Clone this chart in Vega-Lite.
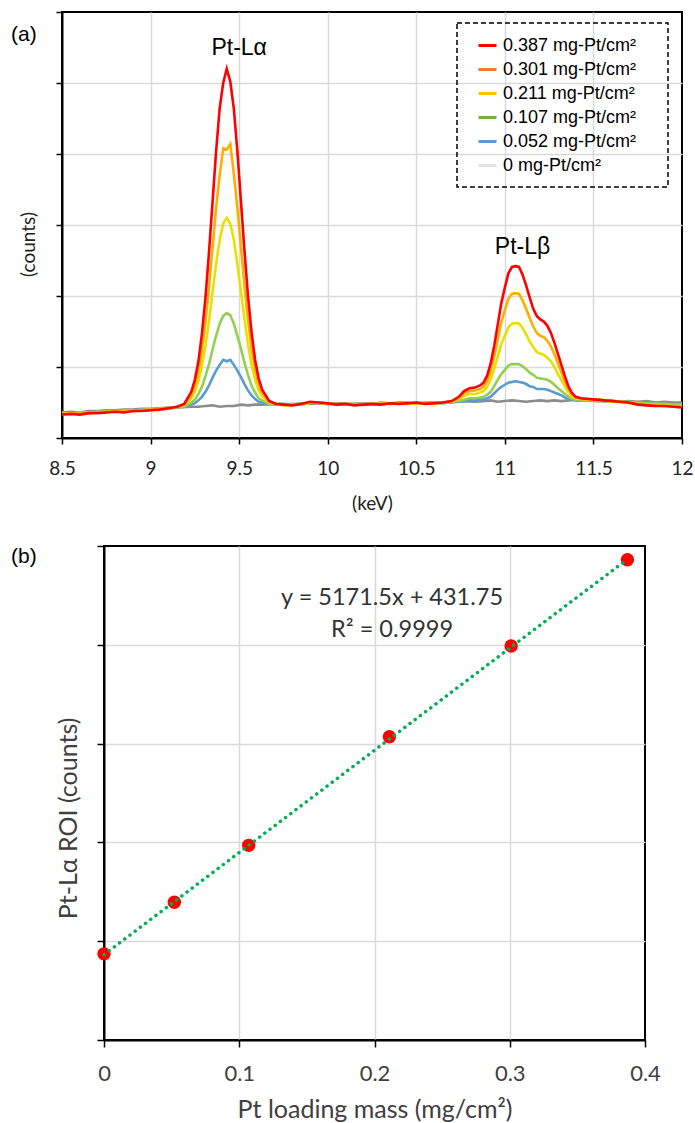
{
"$schema": "https://vega.github.io/schema/vega-lite/v6.json",
"background": "white",
"padding": {"left": 10, "top": 10, "right": 0, "bottom": 0},
"config": {
  "view": {"stroke": "#000", "strokeWidth": 2},
  "axis": {"labelFlush": false, "labelOverlap": false, "titleFontWeight": "normal"},
  "legend": {"strokeDash": [5, 3], "strokeWidth": 1.5}
},
"datasets": {
"spec": [
{"x":8.5,"s":"0","y":0.36},{"x":8.55,"s":"0","y":0.37},{"x":8.6,"s":"0","y":0.36},{"x":8.65,"s":"0","y":0.38},{"x":8.7,"s":"0","y":0.38},{"x":8.75,"s":"0","y":0.39},{"x":8.8,"s":"0","y":0.39},{"x":8.85,"s":"0","y":0.40},{"x":8.9,"s":"0","y":0.40},{"x":8.95,"s":"0","y":0.41},{"x":9,"s":"0","y":0.41},{"x":9.05,"s":"0","y":0.42},{"x":9.1,"s":"0","y":0.43},
{"x":9.15,"s":"0","y":0.43},{"x":9.23,"s":"0","y":0.44},{"x":9.27,"s":"0","y":0.44},{"x":9.31,"s":"0","y":0.45},{"x":9.35,"s":"0","y":0.46},{"x":9.39,"s":"0","y":0.44},{"x":9.43,"s":"0","y":0.45},{"x":9.47,"s":"0","y":0.45},{"x":9.51,"s":"0","y":0.47},{"x":9.55,"s":"0","y":0.46},{"x":9.59,"s":"0","y":0.47},{"x":9.63,"s":"0","y":0.47},{"x":9.71,"s":"0","y":0.48},
{"x":9.75,"s":"0","y":0.48},{"x":9.8,"s":"0","y":0.47},{"x":9.85,"s":"0","y":0.49},{"x":9.9,"s":"0","y":0.48},{"x":9.95,"s":"0","y":0.49},{"x":10,"s":"0","y":0.48},{"x":10.05,"s":"0","y":0.49},{"x":10.1,"s":"0","y":0.48},{"x":10.15,"s":"0","y":0.48},{"x":10.2,"s":"0","y":0.49},{"x":10.25,"s":"0","y":0.48},{"x":10.3,"s":"0","y":0.50},{"x":10.35,"s":"0","y":0.49},{"x":10.4,"s":"0","y":0.50},{"x":10.45,"s":"0","y":0.50},{"x":10.5,"s":"0","y":0.49},{"x":10.55,"s":"0","y":0.50},
{"x":10.6,"s":"0","y":0.50},{"x":10.65,"s":"0","y":0.50},{"x":10.7,"s":"0","y":0.51},{"x":10.77,"s":"0","y":0.52},{"x":10.83,"s":"0","y":0.51},{"x":10.88,"s":"0","y":0.52},{"x":10.92,"s":"0","y":0.53},{"x":10.96,"s":"0","y":0.51},{"x":11,"s":"0","y":0.52},{"x":11.04,"s":"0","y":0.53},{"x":11.08,"s":"0","y":0.52},{"x":11.12,"s":"0","y":0.51},{"x":11.16,"s":"0","y":0.52},{"x":11.2,"s":"0","y":0.53},{"x":11.24,"s":"0","y":0.52},{"x":11.28,"s":"0","y":0.53},{"x":11.32,"s":"0","y":0.52},{"x":11.36,"s":"0","y":0.53},{"x":11.4,"s":"0","y":0.54},{"x":11.47,"s":"0","y":0.53},{"x":11.52,"s":"0","y":0.52},
{"x":11.56,"s":"0","y":0.52},{"x":11.6,"s":"0","y":0.53},{"x":11.65,"s":"0","y":0.51},{"x":11.7,"s":"0","y":0.52},{"x":11.75,"s":"0","y":0.51},{"x":11.8,"s":"0","y":0.52},{"x":11.85,"s":"0","y":0.50},{"x":11.9,"s":"0","y":0.51},{"x":11.95,"s":"0","y":0.50},{"x":12,"s":"0","y":0.50},

{"x":8.5,"s":"0.052","y":0.34},{"x":8.55,"s":"0.052","y":0.35},{"x":8.6,"s":"0.052","y":0.35},{"x":8.65,"s":"0.052","y":0.36},{"x":8.7,"s":"0.052","y":0.37},{"x":8.75,"s":"0.052","y":0.37},{"x":8.8,"s":"0.052","y":0.38},{"x":8.85,"s":"0.052","y":0.38},{"x":8.9,"s":"0.052","y":0.39},{"x":8.95,"s":"0.052","y":0.40},{"x":9,"s":"0.052","y":0.40},{"x":9.05,"s":"0.052","y":0.41},{"x":9.1,"s":"0.052","y":0.42},
{"x":9.15,"s":"0.052","y":0.43},{"x":9.19,"s":"0.052","y":0.44},{"x":9.23,"s":"0.052","y":0.47},{"x":9.25,"s":"0.052","y":0.49},{"x":9.27,"s":"0.052","y":0.53},{"x":9.29,"s":"0.052","y":0.58},{"x":9.31,"s":"0.052","y":0.65},{"x":9.33,"s":"0.052","y":0.74},{"x":9.35,"s":"0.052","y":0.85},{"x":9.37,"s":"0.052","y":0.95},{"x":9.39,"s":"0.052","y":1.03},{"x":9.41,"s":"0.052","y":1.10},{"x":9.43,"s":"0.052","y":1.08},{"x":9.45,"s":"0.052","y":1.10},{"x":9.47,"s":"0.052","y":1.03},{"x":9.49,"s":"0.052","y":0.95},{"x":9.51,"s":"0.052","y":0.86},{"x":9.53,"s":"0.052","y":0.76},{"x":9.55,"s":"0.052","y":0.67},{"x":9.57,"s":"0.052","y":0.60},{"x":9.59,"s":"0.052","y":0.55},{"x":9.61,"s":"0.052","y":0.51},{"x":9.63,"s":"0.052","y":0.50},{"x":9.67,"s":"0.052","y":0.48},{"x":9.71,"s":"0.052","y":0.47},
{"x":9.75,"s":"0.052","y":0.47},{"x":9.8,"s":"0.052","y":0.47},{"x":9.85,"s":"0.052","y":0.48},{"x":9.9,"s":"0.052","y":0.49},{"x":9.95,"s":"0.052","y":0.49},{"x":10,"s":"0.052","y":0.48},{"x":10.05,"s":"0.052","y":0.48},{"x":10.1,"s":"0.052","y":0.48},{"x":10.15,"s":"0.052","y":0.47},{"x":10.2,"s":"0.052","y":0.48},{"x":10.25,"s":"0.052","y":0.48},{"x":10.3,"s":"0.052","y":0.48},{"x":10.35,"s":"0.052","y":0.49},{"x":10.4,"s":"0.052","y":0.49},{"x":10.45,"s":"0.052","y":0.49},{"x":10.5,"s":"0.052","y":0.49},{"x":10.55,"s":"0.052","y":0.49},
{"x":10.6,"s":"0.052","y":0.49},{"x":10.65,"s":"0.052","y":0.49},{"x":10.7,"s":"0.052","y":0.50},{"x":10.74,"s":"0.052","y":0.51},{"x":10.77,"s":"0.052","y":0.52},{"x":10.8,"s":"0.052","y":0.53},{"x":10.83,"s":"0.052","y":0.53},{"x":10.86,"s":"0.052","y":0.54},{"x":10.88,"s":"0.052","y":0.54},{"x":10.9,"s":"0.052","y":0.56},{"x":10.92,"s":"0.052","y":0.58},{"x":10.94,"s":"0.052","y":0.63},{"x":10.96,"s":"0.052","y":0.68},{"x":10.98,"s":"0.052","y":0.72},{"x":11,"s":"0.052","y":0.75},{"x":11.02,"s":"0.052","y":0.78},{"x":11.04,"s":"0.052","y":0.79},{"x":11.06,"s":"0.052","y":0.80},{"x":11.08,"s":"0.052","y":0.79},{"x":11.1,"s":"0.052","y":0.78},{"x":11.12,"s":"0.052","y":0.76},{"x":11.14,"s":"0.052","y":0.73},{"x":11.16,"s":"0.052","y":0.72},{"x":11.18,"s":"0.052","y":0.69},{"x":11.2,"s":"0.052","y":0.69},{"x":11.22,"s":"0.052","y":0.69},{"x":11.24,"s":"0.052","y":0.68},{"x":11.26,"s":"0.052","y":0.66},{"x":11.28,"s":"0.052","y":0.64},{"x":11.3,"s":"0.052","y":0.62},{"x":11.32,"s":"0.052","y":0.60},{"x":11.34,"s":"0.052","y":0.57},{"x":11.36,"s":"0.052","y":0.55},{"x":11.38,"s":"0.052","y":0.54},{"x":11.4,"s":"0.052","y":0.53},{"x":11.43,"s":"0.052","y":0.53},{"x":11.47,"s":"0.052","y":0.53},{"x":11.52,"s":"0.052","y":0.53},
{"x":11.56,"s":"0.052","y":0.52},{"x":11.6,"s":"0.052","y":0.52},{"x":11.65,"s":"0.052","y":0.51},{"x":11.7,"s":"0.052","y":0.50},{"x":11.75,"s":"0.052","y":0.49},{"x":11.8,"s":"0.052","y":0.49},{"x":11.85,"s":"0.052","y":0.48},{"x":11.9,"s":"0.052","y":0.48},{"x":11.95,"s":"0.052","y":0.47},{"x":12,"s":"0.052","y":0.48},

{"x":8.5,"s":"0.107","y":0.35},{"x":8.55,"s":"0.107","y":0.34},{"x":8.6,"s":"0.107","y":0.36},{"x":8.65,"s":"0.107","y":0.36},{"x":8.7,"s":"0.107","y":0.36},{"x":8.75,"s":"0.107","y":0.38},{"x":8.8,"s":"0.107","y":0.37},{"x":8.85,"s":"0.107","y":0.39},{"x":8.9,"s":"0.107","y":0.38},{"x":8.95,"s":"0.107","y":0.40},{"x":9,"s":"0.107","y":0.39},{"x":9.05,"s":"0.107","y":0.41},{"x":9.1,"s":"0.107","y":0.42},
{"x":9.15,"s":"0.107","y":0.43},{"x":9.19,"s":"0.107","y":0.44},{"x":9.23,"s":"0.107","y":0.50},{"x":9.25,"s":"0.107","y":0.54},{"x":9.27,"s":"0.107","y":0.62},{"x":9.29,"s":"0.107","y":0.72},{"x":9.31,"s":"0.107","y":0.87},{"x":9.33,"s":"0.107","y":1.04},{"x":9.35,"s":"0.107","y":1.25},{"x":9.37,"s":"0.107","y":1.44},{"x":9.39,"s":"0.107","y":1.61},{"x":9.41,"s":"0.107","y":1.72},{"x":9.43,"s":"0.107","y":1.76},{"x":9.45,"s":"0.107","y":1.73},{"x":9.47,"s":"0.107","y":1.61},{"x":9.49,"s":"0.107","y":1.44},{"x":9.51,"s":"0.107","y":1.26},{"x":9.53,"s":"0.107","y":1.06},{"x":9.55,"s":"0.107","y":0.89},{"x":9.57,"s":"0.107","y":0.74},{"x":9.59,"s":"0.107","y":0.64},{"x":9.61,"s":"0.107","y":0.56},{"x":9.63,"s":"0.107","y":0.53},{"x":9.67,"s":"0.107","y":0.48},{"x":9.71,"s":"0.107","y":0.47},
{"x":9.75,"s":"0.107","y":0.47},{"x":9.8,"s":"0.107","y":0.48},{"x":9.85,"s":"0.107","y":0.47},{"x":9.9,"s":"0.107","y":0.49},{"x":9.95,"s":"0.107","y":0.50},{"x":10,"s":"0.107","y":0.49},{"x":10.05,"s":"0.107","y":0.48},{"x":10.1,"s":"0.107","y":0.47},{"x":10.15,"s":"0.107","y":0.48},{"x":10.2,"s":"0.107","y":0.48},{"x":10.25,"s":"0.107","y":0.47},{"x":10.3,"s":"0.107","y":0.49},{"x":10.35,"s":"0.107","y":0.48},{"x":10.4,"s":"0.107","y":0.49},{"x":10.45,"s":"0.107","y":0.48},{"x":10.5,"s":"0.107","y":0.50},{"x":10.55,"s":"0.107","y":0.49},
{"x":10.6,"s":"0.107","y":0.49},{"x":10.65,"s":"0.107","y":0.49},{"x":10.7,"s":"0.107","y":0.51},{"x":10.74,"s":"0.107","y":0.52},{"x":10.77,"s":"0.107","y":0.54},{"x":10.8,"s":"0.107","y":0.56},{"x":10.83,"s":"0.107","y":0.56},{"x":10.86,"s":"0.107","y":0.57},{"x":10.88,"s":"0.107","y":0.58},{"x":10.9,"s":"0.107","y":0.61},{"x":10.92,"s":"0.107","y":0.65},{"x":10.94,"s":"0.107","y":0.73},{"x":10.96,"s":"0.107","y":0.82},{"x":10.98,"s":"0.107","y":0.90},{"x":11,"s":"0.107","y":0.96},{"x":11.02,"s":"0.107","y":1.02},{"x":11.04,"s":"0.107","y":1.04},{"x":11.06,"s":"0.107","y":1.04},{"x":11.08,"s":"0.107","y":1.04},{"x":11.1,"s":"0.107","y":1.01},{"x":11.12,"s":"0.107","y":0.97},{"x":11.14,"s":"0.107","y":0.92},{"x":11.16,"s":"0.107","y":0.89},{"x":11.18,"s":"0.107","y":0.85},{"x":11.2,"s":"0.107","y":0.84},{"x":11.22,"s":"0.107","y":0.83},{"x":11.24,"s":"0.107","y":0.82},{"x":11.26,"s":"0.107","y":0.79},{"x":11.28,"s":"0.107","y":0.75},{"x":11.3,"s":"0.107","y":0.70},{"x":11.32,"s":"0.107","y":0.66},{"x":11.34,"s":"0.107","y":0.62},{"x":11.36,"s":"0.107","y":0.58},{"x":11.38,"s":"0.107","y":0.55},{"x":11.4,"s":"0.107","y":0.54},{"x":11.43,"s":"0.107","y":0.54},{"x":11.47,"s":"0.107","y":0.53},{"x":11.52,"s":"0.107","y":0.53},
{"x":11.56,"s":"0.107","y":0.52},{"x":11.6,"s":"0.107","y":0.52},{"x":11.65,"s":"0.107","y":0.51},{"x":11.7,"s":"0.107","y":0.51},{"x":11.75,"s":"0.107","y":0.50},{"x":11.8,"s":"0.107","y":0.49},{"x":11.85,"s":"0.107","y":0.48},{"x":11.9,"s":"0.107","y":0.48},{"x":11.95,"s":"0.107","y":0.47},{"x":12,"s":"0.107","y":0.47},

{"x":8.5,"s":"0.211","y":0.34},{"x":8.55,"s":"0.211","y":0.35},{"x":8.6,"s":"0.211","y":0.34},{"x":8.65,"s":"0.211","y":0.36},{"x":8.7,"s":"0.211","y":0.37},{"x":8.75,"s":"0.211","y":0.36},{"x":8.8,"s":"0.211","y":0.38},{"x":8.85,"s":"0.211","y":0.37},{"x":8.9,"s":"0.211","y":0.39},{"x":8.95,"s":"0.211","y":0.39},{"x":9,"s":"0.211","y":0.40},{"x":9.05,"s":"0.211","y":0.40},{"x":9.1,"s":"0.211","y":0.42},
{"x":9.15,"s":"0.211","y":0.44},{"x":9.19,"s":"0.211","y":0.46},{"x":9.23,"s":"0.211","y":0.56},{"x":9.25,"s":"0.211","y":0.65},{"x":9.27,"s":"0.211","y":0.80},{"x":9.29,"s":"0.211","y":1.01},{"x":9.31,"s":"0.211","y":1.30},{"x":9.33,"s":"0.211","y":1.65},{"x":9.35,"s":"0.211","y":2.06},{"x":9.37,"s":"0.211","y":2.45},{"x":9.39,"s":"0.211","y":2.79},{"x":9.41,"s":"0.211","y":3.02},{"x":9.43,"s":"0.211","y":3.10},{"x":9.45,"s":"0.211","y":3.02},{"x":9.47,"s":"0.211","y":2.79},{"x":9.49,"s":"0.211","y":2.45},{"x":9.51,"s":"0.211","y":2.07},{"x":9.53,"s":"0.211","y":1.67},{"x":9.55,"s":"0.211","y":1.32},{"x":9.57,"s":"0.211","y":1.03},{"x":9.59,"s":"0.211","y":0.82},{"x":9.61,"s":"0.211","y":0.67},{"x":9.63,"s":"0.211","y":0.59},{"x":9.67,"s":"0.211","y":0.50},{"x":9.71,"s":"0.211","y":0.48},
{"x":9.75,"s":"0.211","y":0.46},{"x":9.8,"s":"0.211","y":0.47},{"x":9.85,"s":"0.211","y":0.47},{"x":9.9,"s":"0.211","y":0.50},{"x":9.95,"s":"0.211","y":0.50},{"x":10,"s":"0.211","y":0.48},{"x":10.05,"s":"0.211","y":0.47},{"x":10.1,"s":"0.211","y":0.48},{"x":10.15,"s":"0.211","y":0.47},{"x":10.2,"s":"0.211","y":0.47},{"x":10.25,"s":"0.211","y":0.48},{"x":10.3,"s":"0.211","y":0.48},{"x":10.35,"s":"0.211","y":0.49},{"x":10.4,"s":"0.211","y":0.48},{"x":10.45,"s":"0.211","y":0.49},{"x":10.5,"s":"0.211","y":0.49},{"x":10.55,"s":"0.211","y":0.49},
{"x":10.6,"s":"0.211","y":0.49},{"x":10.65,"s":"0.211","y":0.50},{"x":10.7,"s":"0.211","y":0.51},{"x":10.74,"s":"0.211","y":0.55},{"x":10.77,"s":"0.211","y":0.59},{"x":10.8,"s":"0.211","y":0.62},{"x":10.83,"s":"0.211","y":0.62},{"x":10.86,"s":"0.211","y":0.64},{"x":10.88,"s":"0.211","y":0.66},{"x":10.9,"s":"0.211","y":0.72},{"x":10.92,"s":"0.211","y":0.82},{"x":10.94,"s":"0.211","y":0.97},{"x":10.96,"s":"0.211","y":1.15},{"x":10.98,"s":"0.211","y":1.32},{"x":11,"s":"0.211","y":1.44},{"x":11.02,"s":"0.211","y":1.56},{"x":11.04,"s":"0.211","y":1.61},{"x":11.06,"s":"0.211","y":1.62},{"x":11.08,"s":"0.211","y":1.61},{"x":11.1,"s":"0.211","y":1.55},{"x":11.12,"s":"0.211","y":1.46},{"x":11.14,"s":"0.211","y":1.36},{"x":11.16,"s":"0.211","y":1.28},{"x":11.18,"s":"0.211","y":1.21},{"x":11.2,"s":"0.211","y":1.19},{"x":11.22,"s":"0.211","y":1.17},{"x":11.24,"s":"0.211","y":1.13},{"x":11.26,"s":"0.211","y":1.08},{"x":11.28,"s":"0.211","y":1.00},{"x":11.3,"s":"0.211","y":0.90},{"x":11.32,"s":"0.211","y":0.81},{"x":11.34,"s":"0.211","y":0.72},{"x":11.36,"s":"0.211","y":0.64},{"x":11.38,"s":"0.211","y":0.58},{"x":11.4,"s":"0.211","y":0.56},{"x":11.43,"s":"0.211","y":0.55},{"x":11.47,"s":"0.211","y":0.54},{"x":11.52,"s":"0.211","y":0.54},
{"x":11.56,"s":"0.211","y":0.53},{"x":11.6,"s":"0.211","y":0.51},{"x":11.65,"s":"0.211","y":0.51},{"x":11.7,"s":"0.211","y":0.50},{"x":11.75,"s":"0.211","y":0.48},{"x":11.8,"s":"0.211","y":0.47},{"x":11.85,"s":"0.211","y":0.47},{"x":11.9,"s":"0.211","y":0.46},{"x":11.95,"s":"0.211","y":0.45},{"x":12,"s":"0.211","y":0.45},

{"x":8.5,"s":"0.301","y":0.33},{"x":8.55,"s":"0.301","y":0.34},{"x":8.6,"s":"0.301","y":0.35},{"x":8.65,"s":"0.301","y":0.35},{"x":8.7,"s":"0.301","y":0.36},{"x":8.75,"s":"0.301","y":0.37},{"x":8.8,"s":"0.301","y":0.37},{"x":8.85,"s":"0.301","y":0.38},{"x":8.9,"s":"0.301","y":0.38},{"x":8.95,"s":"0.301","y":0.39},{"x":9,"s":"0.301","y":0.40},{"x":9.05,"s":"0.301","y":0.41},{"x":9.1,"s":"0.301","y":0.41},
{"x":9.15,"s":"0.301","y":0.44},{"x":9.19,"s":"0.301","y":0.47},{"x":9.23,"s":"0.301","y":0.60},{"x":9.25,"s":"0.301","y":0.74},{"x":9.27,"s":"0.301","y":0.94},{"x":9.29,"s":"0.301","y":1.24},{"x":9.31,"s":"0.301","y":1.64},{"x":9.33,"s":"0.301","y":2.13},{"x":9.35,"s":"0.301","y":2.69},{"x":9.37,"s":"0.301","y":3.24},{"x":9.39,"s":"0.301","y":3.70},{"x":9.41,"s":"0.301","y":4.08},{"x":9.43,"s":"0.301","y":4.06},{"x":9.45,"s":"0.301","y":4.14},{"x":9.47,"s":"0.301","y":3.72},{"x":9.49,"s":"0.301","y":3.24},{"x":9.51,"s":"0.301","y":2.70},{"x":9.53,"s":"0.301","y":2.15},{"x":9.55,"s":"0.301","y":1.66},{"x":9.57,"s":"0.301","y":1.26},{"x":9.59,"s":"0.301","y":0.96},{"x":9.61,"s":"0.301","y":0.76},{"x":9.63,"s":"0.301","y":0.63},{"x":9.67,"s":"0.301","y":0.51},{"x":9.71,"s":"0.301","y":0.48},
{"x":9.75,"s":"0.301","y":0.47},{"x":9.8,"s":"0.301","y":0.47},{"x":9.85,"s":"0.301","y":0.48},{"x":9.9,"s":"0.301","y":0.50},{"x":9.95,"s":"0.301","y":0.49},{"x":10,"s":"0.301","y":0.48},{"x":10.05,"s":"0.301","y":0.48},{"x":10.1,"s":"0.301","y":0.47},{"x":10.15,"s":"0.301","y":0.47},{"x":10.2,"s":"0.301","y":0.48},{"x":10.25,"s":"0.301","y":0.47},{"x":10.3,"s":"0.301","y":0.48},{"x":10.35,"s":"0.301","y":0.48},{"x":10.4,"s":"0.301","y":0.49},{"x":10.45,"s":"0.301","y":0.48},{"x":10.5,"s":"0.301","y":0.49},{"x":10.55,"s":"0.301","y":0.49},
{"x":10.6,"s":"0.301","y":0.49},{"x":10.65,"s":"0.301","y":0.50},{"x":10.7,"s":"0.301","y":0.52},{"x":10.74,"s":"0.301","y":0.56},{"x":10.77,"s":"0.301","y":0.63},{"x":10.8,"s":"0.301","y":0.66},{"x":10.83,"s":"0.301","y":0.67},{"x":10.86,"s":"0.301","y":0.69},{"x":10.88,"s":"0.301","y":0.72},{"x":10.9,"s":"0.301","y":0.80},{"x":10.92,"s":"0.301","y":0.94},{"x":10.94,"s":"0.301","y":1.15},{"x":10.96,"s":"0.301","y":1.39},{"x":10.98,"s":"0.301","y":1.63},{"x":11,"s":"0.301","y":1.80},{"x":11.02,"s":"0.301","y":1.96},{"x":11.04,"s":"0.301","y":2.03},{"x":11.06,"s":"0.301","y":2.04},{"x":11.08,"s":"0.301","y":2.03},{"x":11.1,"s":"0.301","y":1.94},{"x":11.12,"s":"0.301","y":1.82},{"x":11.14,"s":"0.301","y":1.69},{"x":11.16,"s":"0.301","y":1.57},{"x":11.18,"s":"0.301","y":1.48},{"x":11.2,"s":"0.301","y":1.44},{"x":11.22,"s":"0.301","y":1.42},{"x":11.24,"s":"0.301","y":1.37},{"x":11.26,"s":"0.301","y":1.29},{"x":11.28,"s":"0.301","y":1.18},{"x":11.3,"s":"0.301","y":1.05},{"x":11.32,"s":"0.301","y":0.92},{"x":11.34,"s":"0.301","y":0.79},{"x":11.36,"s":"0.301","y":0.68},{"x":11.38,"s":"0.301","y":0.61},{"x":11.4,"s":"0.301","y":0.57},{"x":11.43,"s":"0.301","y":0.55},{"x":11.47,"s":"0.301","y":0.55},{"x":11.52,"s":"0.301","y":0.54},
{"x":11.56,"s":"0.301","y":0.53},{"x":11.6,"s":"0.301","y":0.52},{"x":11.65,"s":"0.301","y":0.51},{"x":11.7,"s":"0.301","y":0.49},{"x":11.75,"s":"0.301","y":0.48},{"x":11.8,"s":"0.301","y":0.47},{"x":11.85,"s":"0.301","y":0.46},{"x":11.9,"s":"0.301","y":0.45},{"x":11.95,"s":"0.301","y":0.45},{"x":12,"s":"0.301","y":0.44},

{"x":8.5,"s":"0.387","y":0.33},{"x":8.55,"s":"0.387","y":0.34},{"x":8.6,"s":"0.387","y":0.33},{"x":8.65,"s":"0.387","y":0.35},{"x":8.7,"s":"0.387","y":0.35},{"x":8.75,"s":"0.387","y":0.36},{"x":8.8,"s":"0.387","y":0.37},{"x":8.85,"s":"0.387","y":0.36},{"x":8.9,"s":"0.387","y":0.38},{"x":8.95,"s":"0.387","y":0.38},{"x":9,"s":"0.387","y":0.39},{"x":9.05,"s":"0.387","y":0.40},{"x":9.1,"s":"0.387","y":0.42},
{"x":9.15,"s":"0.387","y":0.44},{"x":9.19,"s":"0.387","y":0.48},{"x":9.23,"s":"0.387","y":0.65},{"x":9.25,"s":"0.387","y":0.82},{"x":9.27,"s":"0.387","y":1.08},{"x":9.29,"s":"0.387","y":1.47},{"x":9.31,"s":"0.387","y":1.98},{"x":9.33,"s":"0.387","y":2.62},{"x":9.35,"s":"0.387","y":3.33},{"x":9.37,"s":"0.387","y":4.04},{"x":9.39,"s":"0.387","y":4.64},{"x":9.41,"s":"0.387","y":5.00},{"x":9.43,"s":"0.387","y":5.20},{"x":9.45,"s":"0.387","y":5.02},{"x":9.47,"s":"0.387","y":4.64},{"x":9.49,"s":"0.387","y":4.04},{"x":9.51,"s":"0.387","y":3.34},{"x":9.53,"s":"0.387","y":2.64},{"x":9.55,"s":"0.387","y":2.00},{"x":9.57,"s":"0.387","y":1.49},{"x":9.59,"s":"0.387","y":1.10},{"x":9.61,"s":"0.387","y":0.84},{"x":9.63,"s":"0.387","y":0.68},{"x":9.67,"s":"0.387","y":0.52},{"x":9.71,"s":"0.387","y":0.48},
{"x":9.75,"s":"0.387","y":0.47},{"x":9.8,"s":"0.387","y":0.46},{"x":9.85,"s":"0.387","y":0.48},{"x":9.9,"s":"0.387","y":0.51},{"x":9.95,"s":"0.387","y":0.50},{"x":10,"s":"0.387","y":0.49},{"x":10.05,"s":"0.387","y":0.47},{"x":10.1,"s":"0.387","y":0.48},{"x":10.15,"s":"0.387","y":0.46},{"x":10.2,"s":"0.387","y":0.47},{"x":10.25,"s":"0.387","y":0.48},{"x":10.3,"s":"0.387","y":0.47},{"x":10.35,"s":"0.387","y":0.49},{"x":10.4,"s":"0.387","y":0.48},{"x":10.45,"s":"0.387","y":0.49},{"x":10.5,"s":"0.387","y":0.50},{"x":10.55,"s":"0.387","y":0.48},
{"x":10.6,"s":"0.387","y":0.49},{"x":10.65,"s":"0.387","y":0.50},{"x":10.7,"s":"0.387","y":0.52},{"x":10.74,"s":"0.387","y":0.58},{"x":10.77,"s":"0.387","y":0.66},{"x":10.8,"s":"0.387","y":0.70},{"x":10.83,"s":"0.387","y":0.71},{"x":10.86,"s":"0.387","y":0.74},{"x":10.88,"s":"0.387","y":0.78},{"x":10.9,"s":"0.387","y":0.88},{"x":10.92,"s":"0.387","y":1.05},{"x":10.94,"s":"0.387","y":1.30},{"x":10.96,"s":"0.387","y":1.60},{"x":10.98,"s":"0.387","y":1.90},{"x":11,"s":"0.387","y":2.12},{"x":11.02,"s":"0.387","y":2.32},{"x":11.04,"s":"0.387","y":2.41},{"x":11.06,"s":"0.387","y":2.42},{"x":11.08,"s":"0.387","y":2.41},{"x":11.1,"s":"0.387","y":2.30},{"x":11.12,"s":"0.387","y":2.15},{"x":11.14,"s":"0.387","y":1.98},{"x":11.16,"s":"0.387","y":1.82},{"x":11.18,"s":"0.387","y":1.72},{"x":11.2,"s":"0.387","y":1.67},{"x":11.22,"s":"0.387","y":1.64},{"x":11.24,"s":"0.387","y":1.58},{"x":11.26,"s":"0.387","y":1.48},{"x":11.28,"s":"0.387","y":1.34},{"x":11.3,"s":"0.387","y":1.18},{"x":11.32,"s":"0.387","y":1.02},{"x":11.34,"s":"0.387","y":0.86},{"x":11.36,"s":"0.387","y":0.72},{"x":11.38,"s":"0.387","y":0.63},{"x":11.4,"s":"0.387","y":0.58},{"x":11.43,"s":"0.387","y":0.56},{"x":11.47,"s":"0.387","y":0.55},{"x":11.52,"s":"0.387","y":0.54},
{"x":11.56,"s":"0.387","y":0.53},{"x":11.6,"s":"0.387","y":0.52},{"x":11.65,"s":"0.387","y":0.51},{"x":11.7,"s":"0.387","y":0.50},{"x":11.75,"s":"0.387","y":0.47},{"x":11.8,"s":"0.387","y":0.46},{"x":11.85,"s":"0.387","y":0.45},{"x":11.9,"s":"0.387","y":0.45},{"x":11.95,"s":"0.387","y":0.44},{"x":12,"s":"0.387","y":0.43}
],
"pts": [
{"m":0,"c":436},{"m":0.052,"c":697},{"m":0.107,"c":985},{"m":0.211,"c":1535},{"m":0.301,"c":1994},{"m":0.387,"c":2430}
],
"trend": [
{"m":0,"c":431.75},{"m":0.387,"c":2433.2}
]
},
"vconcat": [
{
 "width": 620, "height": 426,
 "layer": [
  {
   "data": {"name": "spec"},
   "transform": [{"filter": "datum.x < 0"}],
   "mark": {"type": "line", "strokeWidth": 3},
   "encoding": {
    "x": {"field": "x", "type": "quantitative", "title": "(keV)"},
    "y": {"field": "y", "type": "quantitative", "title": "(counts)"},
    "color": {"field": "s", "type": "nominal",
     "scale": {"domain": ["0.387","0.301","0.211","0.107","0.052","0"], "range": ["#FF0000","#ED7D31","#FFC000","#70AD47","#5B9BD5","#E3E3E3"]},
     "legend": {"orient": "none", "legendX": 395, "legendY": 11,
      "title": "mm", "titleOrient": "right", "titleColor": "rgba(0,0,0,0)", "titleFont": "Liberation Sans", "titleFontSize": 10, "titlePadding": 2,
      "labelFont": "Liberation Sans", "labelFontSize": 18, "labelColor": "#000",
      "symbolType": "stroke", "symbolSize": 324, "symbolStrokeWidth": 3, "symbolOffset": 8,
      "labelOffset": 5, "rowPadding": 4, "padding": 12, "strokeColor": "#000",
      "labelExpr": "datum.label + ' mg-Pt/cm²'"}
    }
   }
  },
  {
   "data": {"name": "spec"},
   "mark": {"type": "line", "strokeWidth": 2.6},
   "encoding": {
    "x": {"field": "x", "type": "quantitative", "title": "(keV)",
     "scale": {"domain": [8.5, 12], "nice": false, "zero": false},
     "axis": {"values": [8.5,9,9.5,10,10.5,11,11.5,12], "format": "~g",
      "domainColor": "#000", "domainWidth": 2, "tickColor": "#000", "tickWidth": 1.5, "tickSize": 6,
      "labelFont": "Lato", "labelFontSize": 19, "labelColor": "#222", "labelBaseline": "alphabetic", "labelPadding": 30,
      "gridColor": {"condition": {"test": "datum.value == 8.5 || datum.value == 12", "value": "rgba(0,0,0,0)"}, "value": "#D9D9D9"}, "gridWidth": 1.5,
      "titleFont": "Lato", "titleFontSize": 19, "titleColor": "#222", "titleBaseline": "alphabetic", "titleY": 71}},
    "y": {"field": "y", "type": "quantitative", "title": "(counts)",
     "scale": {"domain": [0, 6], "nice": false},
     "axis": {"values": [0,1,2,3,4,5,6], "labels": false,
      "domainColor": "#000", "domainWidth": 2, "tickColor": "#000", "tickWidth": 1.5, "tickSize": 6,
      "gridColor": {"condition": {"test": "datum.value == 0 || datum.value == 6", "value": "rgba(0,0,0,0)"}, "value": "#D9D9D9"}, "gridWidth": 1.5,
      "titleFont": "Lato", "titleFontSize": 19, "titleColor": "#222", "titleX": -24, "titleY": 232}},
    "stroke": {"field": "s", "type": "nominal",
     "scale": {"domain": ["0.387","0.301","0.211","0.107","0.052","0"], "range": ["#FF0000","#FFAE00","#E8E000","#92D050","#5B9BD5","#8C8C8C"]},
     "legend": null}
   }
  },
  {
   "data": {"values": [{"x": 9.5, "y": 5.49, "t": "Pt-Lα"}, {"x": 11.1, "y": 2.69, "t": "Pt-Lβ"}]},
   "mark": {"type": "text", "font": "Liberation Sans", "fontSize": 23, "baseline": "middle", "align": "center", "color": "#000"},
   "encoding": {
    "x": {"field": "x", "type": "quantitative", "title": "(keV)"},
    "y": {"field": "y", "type": "quantitative", "title": "(counts)"},
    "text": {"field": "t"}
   }
  },
  {
   "data": {"values": [{"x": 8.285, "y": 5.68, "t": "(a)"}]},
   "mark": {"type": "text", "font": "Liberation Sans", "fontSize": 21, "baseline": "middle", "align": "center", "color": "#000"},
   "encoding": {
    "x": {"field": "x", "type": "quantitative", "title": "(keV)"},
    "y": {"field": "y", "type": "quantitative", "title": "(counts)"},
    "text": {"field": "t"}
   }
  }
 ]
},
{
 "hconcat": [
  {
   "width": 42, "height": 494,
   "view": {"stroke": null},
   "data": {"values": []},
   "mark": "point"
  },
  {
   "width": 541, "height": 494,
   "layer": [
    {
     "data": {"name": "pts"},
     "mark": {"type": "point", "filled": true, "size": 180, "color": "#FF0000", "opacity": 1},
     "encoding": {
      "x": {"field": "m", "type": "quantitative", "title": "Pt loading mass (mg/cm²)",
       "scale": {"domain": [0, 0.4], "nice": false},
       "axis": {"values": [0,0.1,0.2,0.3,0.4], "format": "~g",
        "domainColor": "#000", "domainWidth": 2, "tickColor": "#000", "tickWidth": 1.5, "tickSize": 7,
        "labelFont": "Lato", "labelFontSize": 22, "labelColor": "#404040", "labelBaseline": "alphabetic", "labelPadding": 33,
        "gridColor": {"condition": {"test": "datum.value == 0 || datum.value == 0.4", "value": "rgba(0,0,0,0)"}, "value": "#D9D9D9"}, "gridWidth": 1.5,
        "titleFont": "Lato", "titleFontSize": 25, "titleColor": "#404040", "titleBaseline": "alphabetic", "titleY": 77}},
      "y": {"field": "c", "type": "quantitative", "title": "Pt-Lα ROI (counts)",
       "scale": {"domain": [0, 2500], "nice": false},
       "axis": {"values": [0,500,1000,1500,2000,2500], "labels": false,
        "domainColor": "#000", "domainWidth": 2, "tickColor": "#000", "tickWidth": 1.5, "tickSize": 7,
        "gridColor": {"condition": {"test": "datum.value == 0 || datum.value == 2500", "value": "rgba(0,0,0,0)"}, "value": "#D9D9D9"}, "gridWidth": 1.5,
        "titleFont": "Lato", "titleFontSize": 25, "titleColor": "#404040", "titleX": -23, "titleY": 272}}
     }
    },
    {
     "data": {"name": "trend"},
     "mark": {"type": "line", "color": "#00B050", "strokeWidth": 3.5, "strokeCap": "round", "strokeDash": [0.1, 6.4]},
     "encoding": {
      "x": {"field": "m", "type": "quantitative", "title": "Pt loading mass (mg/cm²)"},
      "y": {"field": "c", "type": "quantitative", "title": "Pt-Lα ROI (counts)"}
     }
    },
    {
     "data": {"values": [{"m": 0.213, "c": 2237, "t": "y = 5171.5x + 431.75"}, {"m": 0.213, "c": 2075, "t": "R² = 0.9999"}]},
     "mark": {"type": "text", "font": "Lato", "fontSize": 23.5, "baseline": "middle", "align": "center", "color": "#333"},
     "encoding": {
      "x": {"field": "m", "type": "quantitative", "title": "Pt loading mass (mg/cm²)"},
      "y": {"field": "c", "type": "quantitative", "title": "Pt-Lα ROI (counts)"},
      "text": {"field": "t"}
     }
    },
    {
     "data": {"values": [{"m": -0.0592, "c": 2444, "t": "(b)"}]},
     "mark": {"type": "text", "font": "Liberation Sans", "fontSize": 21, "baseline": "middle", "align": "center", "color": "#000"},
     "encoding": {
      "x": {"field": "m", "type": "quantitative", "title": "Pt loading mass (mg/cm²)"},
      "y": {"field": "c", "type": "quantitative", "title": "Pt-Lα ROI (counts)"},
      "text": {"field": "t"}
     }
    }
   ]
  }
 ],
 "spacing": 0,
 "bounds": "flush"
}
],
"spacing": 108,
"bounds": "flush"
}
